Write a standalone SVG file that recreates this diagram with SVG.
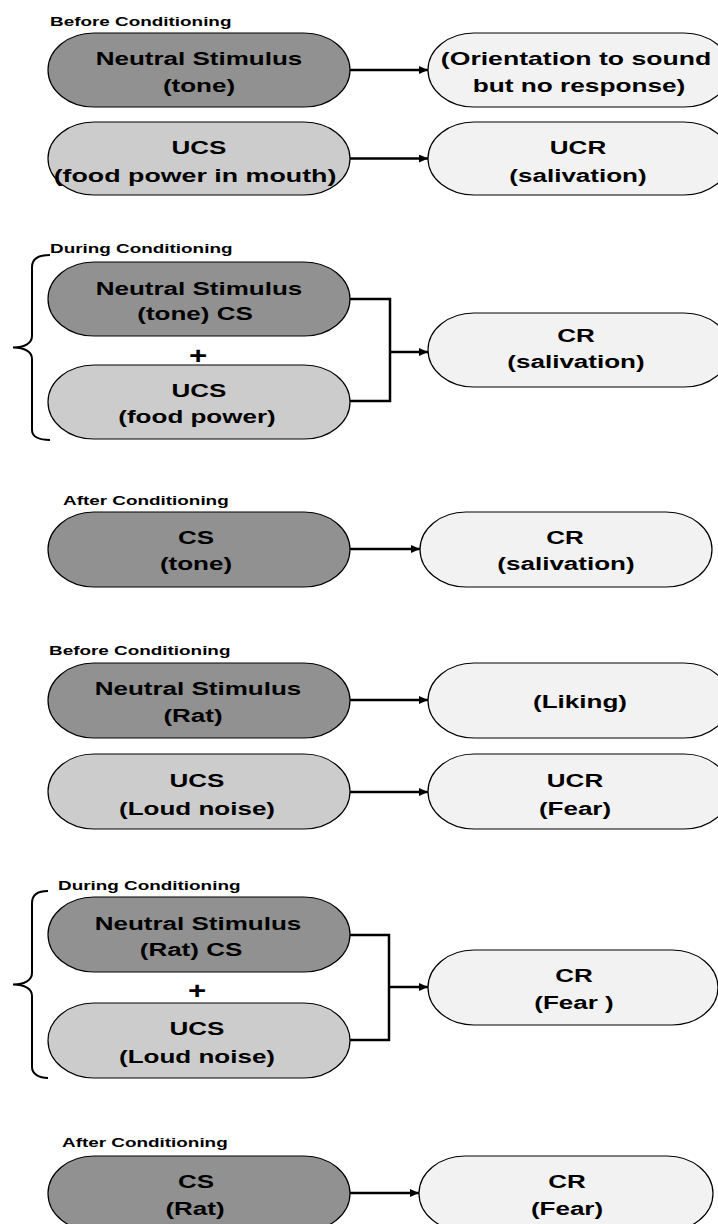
<svg xmlns="http://www.w3.org/2000/svg" width="718" height="1224" viewBox="0 0 718 1224">
<style>
.dark{fill:#919191;stroke:#000;stroke-width:1.2}
.light{fill:#cccccc;stroke:#000;stroke-width:1.2}
.resp{fill:#f2f2f2;stroke:#000;stroke-width:1.2}
.t{font-family:"Liberation Sans",Arial,sans-serif;font-weight:bold;font-size:19px;text-anchor:middle;fill:#000}
.lbl{font-family:"Liberation Sans",Arial,sans-serif;font-weight:bold;font-size:13.5px;fill:#000}
.plus{font-family:"Liberation Sans",Arial,sans-serif;font-weight:bold;font-size:24px;text-anchor:middle;fill:#000}
.arr{fill:none;stroke:#000;stroke-width:2.5;marker-end:url(#ah)}
.ln{fill:none;stroke:#000;stroke-width:2.5}
.brace{fill:none;stroke:#000;stroke-width:2}
</style>
<defs>
<marker id="ah" markerUnits="userSpaceOnUse" markerWidth="9" markerHeight="8" refX="9" refY="4" orient="auto">
<path d="M0,0 L9,4 L0,8 z" fill="#000"/>
</marker>
</defs>

<!-- Section 1: Before Conditioning -->
<text class="lbl" transform="translate(50,26) scale(1.4,1)">Before Conditioning</text>
<g id="s1-ns">
<rect class="dark" x="48" y="33" width="302" height="74" rx="46" ry="37"/>
<text class="t" transform="translate(199,65) scale(1.37,1)">Neutral Stimulus</text>
<text class="t" transform="translate(199,92) scale(1.37,1)">(tone)</text>
</g>
<g id="s1-ucs">
<rect class="light" x="48" y="122" width="302" height="73" rx="46" ry="36.5"/>
<text class="t" transform="translate(199,154) scale(1.37,1)">UCS</text>
<text class="t" transform="translate(195,182) scale(1.41,1)">(food power in mouth)</text>
</g>
<g id="s1-orient">
<rect class="resp" x="428" y="33" width="302" height="74" rx="46" ry="37"/>
<text class="t" transform="translate(576,65) scale(1.40,1)">(Orientation to sound</text>
<text class="t" transform="translate(579,92) scale(1.38,1)">but no response)</text>
</g>
<g id="s1-ucr">
<rect class="resp" x="428" y="122" width="302" height="73" rx="46" ry="36.5"/>
<text class="t" transform="translate(578,154) scale(1.37,1)">UCR</text>
<text class="t" transform="translate(578,182) scale(1.37,1)">(salivation)</text>
</g>

<!-- Section 2: During Conditioning -->
<text class="lbl" transform="translate(50,253) scale(1.4,1)">During Conditioning</text>
<g id="s2-ns">
<rect class="dark" x="48" y="262" width="302" height="74" rx="46" ry="37"/>
<text class="t" transform="translate(199,295) scale(1.37,1)">Neutral Stimulus</text>
<text class="t" transform="translate(195,320) scale(1.37,1)">(tone) CS</text>
</g>
<text class="plus" transform="translate(198,364) scale(1.3,1)">+</text>
<g id="s2-ucs">
<rect class="light" x="48" y="365" width="302" height="74" rx="46" ry="37"/>
<text class="t" transform="translate(199,397) scale(1.37,1)">UCS</text>
<text class="t" transform="translate(197,423) scale(1.37,1)">(food power)</text>
</g>
<g id="s2-cr">
<rect class="resp" x="428" y="313" width="302" height="74" rx="46" ry="37"/>
<text class="t" transform="translate(576,342) scale(1.37,1)">CR</text>
<text class="t" transform="translate(576,368) scale(1.37,1)">(salivation)</text>
</g>

<!-- Section 3: After Conditioning -->
<text class="lbl" transform="translate(63,505) scale(1.4,1)">After Conditioning</text>
<g id="s3-cs">
<rect class="dark" x="48" y="512" width="302" height="75" rx="46" ry="37.5"/>
<text class="t" transform="translate(196,544) scale(1.37,1)">CS</text>
<text class="t" transform="translate(196,570) scale(1.37,1)">(tone)</text>
</g>
<g id="s3-cr">
<rect class="resp" x="420" y="512" width="292" height="75" rx="46" ry="37.5"/>
<text class="t" transform="translate(565,544) scale(1.37,1)">CR</text>
<text class="t" transform="translate(566,570) scale(1.37,1)">(salivation)</text>
</g>

<!-- Section 4: Before Conditioning -->
<text class="lbl" transform="translate(49,655) scale(1.4,1)">Before Conditioning</text>
<g id="s4-ns">
<rect class="dark" x="48" y="663" width="302" height="75" rx="46" ry="37.5"/>
<text class="t" transform="translate(198,695) scale(1.37,1)">Neutral Stimulus</text>
<text class="t" transform="translate(193,722) scale(1.37,1)">(Rat)</text>
</g>
<g id="s4-ucs">
<rect class="light" x="48" y="754" width="302" height="75" rx="46" ry="37.5"/>
<text class="t" transform="translate(197,787) scale(1.37,1)">UCS</text>
<text class="t" transform="translate(197,815) scale(1.37,1)">(Loud noise)</text>
</g>
<g id="s4-liking">
<rect class="resp" x="428" y="663" width="302" height="75" rx="46" ry="37.5"/>
<text class="t" transform="translate(580,708) scale(1.37,1)">(Liking)</text>
</g>
<g id="s4-ucr">
<rect class="resp" x="428" y="754" width="302" height="75" rx="46" ry="37.5"/>
<text class="t" transform="translate(575,787) scale(1.37,1)">UCR</text>
<text class="t" transform="translate(575,815) scale(1.37,1)">(Fear)</text>
</g>

<!-- Section 5: During Conditioning -->
<text class="lbl" transform="translate(58,890) scale(1.4,1)">During Conditioning</text>
<g id="s5-ns">
<rect class="dark" x="48" y="897" width="302" height="75" rx="46" ry="37.5"/>
<text class="t" transform="translate(198,930) scale(1.37,1)">Neutral Stimulus</text>
<text class="t" transform="translate(191,956) scale(1.37,1)">(Rat) CS</text>
</g>
<text class="plus" transform="translate(197,999) scale(1.3,1)">+</text>
<g id="s5-ucs">
<rect class="light" x="48" y="1003" width="302" height="75" rx="46" ry="37.5"/>
<text class="t" transform="translate(197,1035) scale(1.37,1)">UCS</text>
<text class="t" transform="translate(197,1063) scale(1.37,1)">(Loud noise)</text>
</g>
<g id="s5-cr">
<rect class="resp" x="428" y="950" width="290" height="75" rx="46" ry="37.5"/>
<text class="t" transform="translate(574,982) scale(1.37,1)">CR</text>
<text class="t" transform="translate(574,1009) scale(1.37,1)">(Fear )</text>
</g>

<!-- Section 6: After Conditioning -->
<text class="lbl" transform="translate(62,1147) scale(1.4,1)">After Conditioning</text>
<g id="s6-cs">
<rect class="dark" x="48" y="1156" width="302" height="75" rx="46" ry="37.5"/>
<text class="t" transform="translate(196,1188) scale(1.37,1)">CS</text>
<text class="t" transform="translate(195,1215) scale(1.37,1)">(Rat)</text>
</g>
<g id="s6-cr">
<rect class="resp" x="419" y="1156" width="294" height="75" rx="46" ry="37.5"/>
<text class="t" transform="translate(567,1188) scale(1.37,1)">CR</text>
<text class="t" transform="translate(567,1215) scale(1.37,1)">(Fear)</text>
</g>

<g id="connectors">
<path class="arr" d="M350,70 H428"/>
<path class="arr" d="M350,158.5 H428"/>
<path class="brace" d="M50,255 C40,255 32,258 32,267 L32,336 C32,343 25,347.5 13,347.5 C25,347.5 32,352 32,359 L32,430 C32,437 40,440 50,440"/>
<path class="ln" d="M350,299 H390 V401 H350"/>
<path class="arr" d="M390,352 H428"/>
<path class="arr" d="M350,549 H420"/>
<path class="arr" d="M350,700 H428"/>
<path class="arr" d="M350,792 H428"/>
<path class="brace" d="M48,891 C39,891 32,894 32,903 L32,973 C32,980 25,984.5 13,984.5 C25,984.5 32,989 32,996 L32,1067 C32,1074 39,1078 48,1078"/>
<path class="ln" d="M350,935 H389 V1040 H350"/>
<path class="arr" d="M389,987 H428"/>
<path class="arr" d="M350,1193 H419"/>
</g>
</svg>
